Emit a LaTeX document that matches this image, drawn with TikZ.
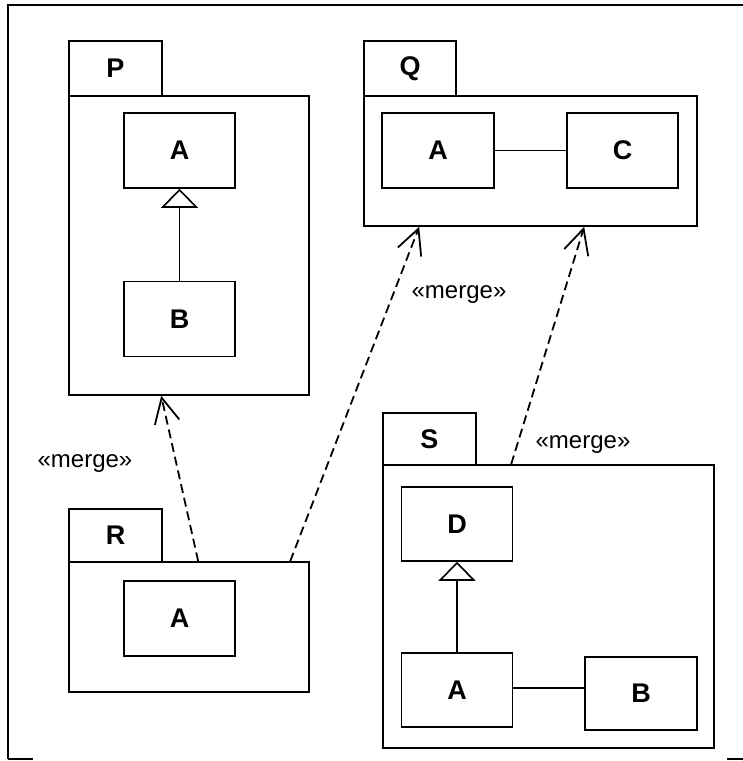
\documentclass[tikz,border=0pt]{standalone}
\usepackage{fontspec}
\setmainfont{Liberation Sans}
\usetikzlibrary{arrows.meta,calc}
\tikzset{
  ln/.style={line width=1.6pt},
  cls/.style={draw, ln, minimum width=111pt, minimum height=75pt, inner sep=0pt,
    font=\bfseries\fontsize{27}{27}\selectfont},
  tab/.style={draw, ln, minimum width=93pt, minimum height=55pt, inner sep=0pt,
    font=\bfseries\fontsize{27}{27}\selectfont},
  body/.style={draw, ln, inner sep=0pt},
  gen/.style={ln, -{Triangle[open, length=19pt, width=37pt, line width=1.6pt]}},
  assoc/.style={ln},
  merge/.style={line width=1.8pt, dash pattern=on 9pt off 5pt,
    -{Straight Barb[length=25pt, width=25pt, line width=1.8pt]}},
  mlabel/.style={anchor=base, inner sep=0pt, font=\fontsize{24}{24}\selectfont},
  frame/.style={line width=2.6pt}
}
\begin{document}
\begin{tikzpicture}[x=1pt, y=-1pt]
\useasboundingbox (0,0) rectangle (743,761);
% outer frame (cropped)
\draw[frame] (8,759) -- (8,5) -- (743,5);
\draw[frame] (8,759) -- (33,759);
\draw[frame] (727,759) -- (743,759);

% Package P
\node[tab] (pTab) at (115.5,68.5) {P};
\node[body, minimum width=240pt, minimum height=299pt] (pBody) at (189,245.5) {};
\node[cls] (pA) at (179.5,150.5) {A};
\node[cls] (pB) at (179.5,319) {B};
\draw[gen] (pB.north) -- (pA.south);

% Package Q
\node[tab, minimum width=92pt] (qTab) at (410,68.5) {Q};
\node[body, minimum width=333pt, minimum height=130pt] (qBody) at (530.5,161) {};
\node[cls, minimum width=112pt] (qA) at (438,150.5) {A};
\node[cls] (qC) at (622.5,150.5) {C};
\draw[assoc] (qA.east) -- (qC.west);

% Package R
\node[tab, minimum height=53pt] (rTab) at (115.5,535.5) {R};
\node[body, minimum width=240pt, minimum height=130pt] (rBody) at (189,627) {};
\node[cls] (rA) at (179.5,618.5) {A};

% Package S
\node[tab, minimum height=52pt] (sTab) at (429.5,439) {S};
\node[body, minimum width=331pt, minimum height=283pt] (sBody) at (548.5,606.5) {};
\node[cls, minimum height=74pt] (sD) at (457,524) {D};
\node[cls, minimum height=74pt] (sA) at (457,690) {A};
\node[cls, minimum width=112pt, minimum height=73pt] (sB) at (641,693.5) {B};
\draw[gen] (sA.north) -- (sD.south);
\draw[assoc] ([yshift=2pt]sA.east) -- ([yshift=2pt]sA.east -| sB.west);

% merge dependencies
\coordinate (r1) at ([xshift=130pt]rBody.north west);
\coordinate (r2) at ([xshift=222pt]rBody.north west);
\coordinate (s1) at ([xshift=129pt]sBody.north west);
\coordinate (p1) at ([xshift=93pt]pBody.south west);
\coordinate (q1) at ([xshift=56pt]qBody.south west);
\coordinate (q2) at ([xshift=221pt]qBody.south west);
\draw[merge] (r1) -- (p1);
\draw[merge] (r2) -- (q1);
\draw[merge] (s1) -- (q2);
\node[mlabel] (m1) at (85,467) {«merge»};
\node[mlabel] (m2) at (459,298) {«merge»};
\node[mlabel] (m3) at (583,448) {«merge»};
\end{tikzpicture}
\end{document}
